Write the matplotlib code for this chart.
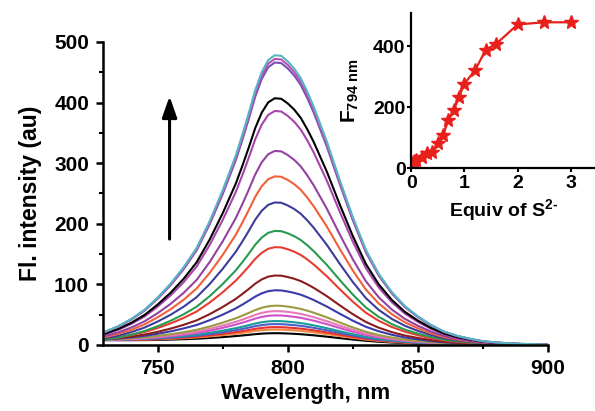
import numpy as np
import matplotlib.pyplot as plt

plt.rcParams['font.family'] = ['Liberation Sans', 'DejaVu Sans']
plt.rcParams['font.weight'] = 'bold'
plt.rcParams['mathtext.fontset'] = 'custom'
plt.rcParams['mathtext.rm'] = 'Liberation Sans:bold'
plt.rcParams['mathtext.it'] = 'Liberation Sans:bold'
plt.rcParams['mathtext.bf'] = 'Liberation Sans:bold'

# longueurs d'onde (nm), pas plus fin autour du maximum
wl = [730, 735, 740, 745, 750, 755, 760, 765, 770, 775,
      780, 782.5, 785, 787.5, 790, 792.5, 795, 797.5, 800, 802.5, 805, 807.5, 810,
      815, 820, 825, 830, 835, 840, 845, 850, 855, 860, 865, 870, 875, 880,
      885, 890, 895, 900]

# courbe la plus haute (forme du spectre)
top_curve = [22, 31, 43, 58, 78, 101, 128, 160, 204, 255,
             312, 346, 382, 420, 450, 470, 478, 477, 468, 456, 440, 418, 393,
             336, 272, 211, 157, 117, 87, 64, 47, 33, 22, 15, 10, 6, 4,
             2.5, 1.5, 1, 0.5]
baseline = [1.0, 0.95, 0.9, 0.85, 0.8, 0.78, 0.75, 0.72, 0.7, 0.68,
            0.66, 0.65, 0.64, 0.63, 0.62, 0.61, 0.6, 0.59, 0.57, 0.55, 0.53,
            0.5, 0.48, 0.42, 0.36, 0.3, 0.25, 0.2, 0.15, 0.11, 0.08, 0.05,
            0.03, 0.02, 0.01, 0, 0, 0, 0, 0, 0]

# amplitude / fond / couleur de chaque spectre
amps = [478, 472, 466, 407, 386, 320, 278, 235, 188, 160, 112, 87, 61, 52, 45,
        35, 30, 25, 21, 15]
offsets = [0, 0, 0, 0, 0, 0, 0, 0, 0, 2, 4, 5, 6, 6, 6, 7, 7, 7, 7, 7]
colors = ['#55b5c0', '#b84fb5', '#7a50b5', 'black', '#a844ac', '#9442a2',
          '#f0603a', '#3c3c9c', '#2a9a50', '#e83c30', '#8c1c1c', '#3a3aa8',
          '#9a9a40', '#e878b8', '#d050c8', '#1a9a9a', '#4a60c8', '#e83030',
          '#f08840', 'black']

# titration (encart)
equiv = [0, 0.05, 0.1, 0.2, 0.3, 0.4, 0.5, 0.6, 0.7, 0.8, 0.9, 1.0, 1.2, 1.4,
         1.6, 2.0, 2.5, 3.0]
f794 = [20, 24, 28, 38, 49, 54, 82, 109, 158, 190, 234, 277, 321, 388, 408,
        471, 478, 478]

shape = np.array(top_curve) / max(top_curve)
base = np.array(baseline)

fig = plt.figure(figsize=(5.95, 4.11), dpi=100)
ax = fig.add_axes([0.173, 0.161, 0.748, 0.737])

for a, o, c in reversed(list(zip(amps, offsets, colors))):
    ax.plot(wl, a * shape + o * base, color=c, lw=1.5)

ax.annotate('', xy=(754.6, 415), xytext=(754.6, 170),
            arrowprops=dict(arrowstyle='-|>,head_length=0.8,head_width=0.28',
                            color='black', lw=2.2, mutation_scale=16))

ax.set_xlim(729, 900)
ax.set_ylim(0, 500)
ax.set_xticks([750, 800, 850, 900])
ax.set_xticks([775, 825, 875], minor=True)
ax.set_yticks([0, 100, 200, 300, 400, 500])
ax.set_yticks([50, 150, 250, 350, 450], minor=True)
for s in ['top', 'right']:
    ax.spines[s].set_visible(False)
for s in ['left', 'bottom']:
    ax.spines[s].set_linewidth(1.8)
ax.tick_params(which='major', direction='out', length=5, width=1.8,
               labelsize=15, pad=5)
ax.tick_params(which='minor', direction='out', length=3, width=1.5)
ax.set_xlabel('Wavelength, nm', fontsize=16, fontweight='bold')
ax.xaxis.set_label_coords(0.456, -0.125)
ax.set_ylabel('Fl. intensity (au)', fontsize=16.5, fontweight='bold',
              labelpad=9)

# encart
ins = fig.add_axes([0.691, 0.591, 0.309, 0.377])
ins.plot(equiv, f794, '-*', color='#e8201c', lw=1.6, ms=10)
ins.set_xlim(0, 3.45)
ins.set_ylim(0, 508)
ins.set_xticks([0, 1, 2, 3])
ins.set_yticks([0, 200, 400])
for s in ['top', 'right']:
    ins.spines[s].set_visible(False)
for s in ['left', 'bottom']:
    ins.spines[s].set_linewidth(1.6)
ins.tick_params(direction='out', length=3, width=1.5, labelsize=14, pad=1)
ins.tick_params(axis='x', pad=2)
ins.set_xlabel('Equiv of S$^{2\\text{-}}$', fontsize=14, fontweight='bold',
               labelpad=4)
ins.set_ylabel('F$_{794\\ nm}$', fontsize=15, fontweight='bold', labelpad=9)
ins.patch.set_alpha(0)

fig.savefig('out.png', dpi=100)
